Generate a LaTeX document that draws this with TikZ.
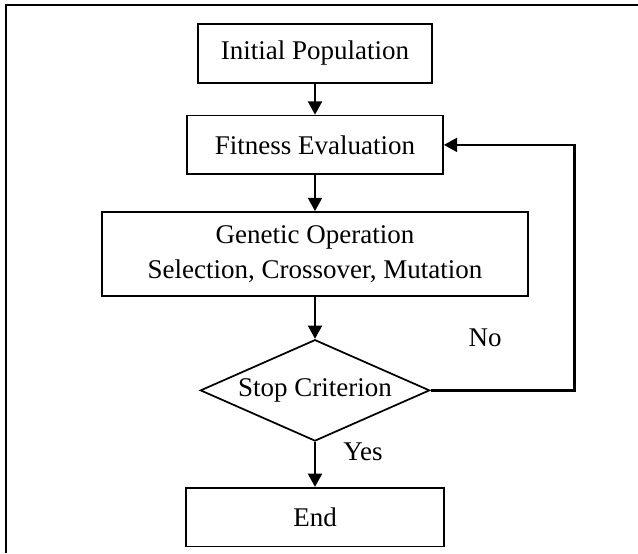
\documentclass[tikz,border=0pt]{standalone}
\usepackage{fontspec}
\setmainfont{Liberation Serif}
\usetikzlibrary{positioning}
\usetikzlibrary{shapes.geometric}
\usetikzlibrary{arrows.meta}
\usetikzlibrary{backgrounds}

\tikzset{
	stagebox/.style = {fill = white, draw, rectangle, line width = 1.3pt, inner sep = 0pt,
		minimum height = 44pt, align = center, font = \fontsize{20.25}{26.25}\selectfont},
	testbox/.style = {fill = white, draw, diamond, line width = 1.3pt, inner sep = 0pt, shape aspect = 2.26,
		minimum width = 172pt, minimum height = 76pt, font = \fontsize{20.25}{26.25}\selectfont},
	flow/.style = {black, line width = 1.7pt, -{Triangle[length=10pt,width=10.5pt]}},
	tag/.style = {font = \fontsize{20.25}{26.25}\selectfont}
}

\begin{document}
\begin{tikzpicture}[x=0.75pt,y=-0.75pt]
		\useasboundingbox (0,0) rectangle (638,553);
		\draw[black, line width = 1.5pt] (6,553) -- (6,5) -- (638,5);

		\node[stagebox, minimum width = 176pt] at (315,53.5) (init) {Initial Population};
		\node[below = 23.25pt of init, stagebox, minimum width = 192pt] (fit)
		{Fitness Evaluation};
		\node[below = 27pt of fit, stagebox, minimum width = 319pt, minimum height = 63pt] (gen)
		{Genetic Operation\\Selection, Crossover, Mutation};
		\node[below = 31.5pt of gen, testbox] (stop)
		{Stop Criterion};
		\node[below = 33.75pt of stop, stagebox, minimum width = 193.5pt] (end)
		{End};

		\coordinate[right = 108pt of stop.east] (back);
		\node[tag] at (485,338) (no) {No};
		\node[tag] at (363,452) (yes) {Yes};

		\begin{scope}[on background layer]
			\draw[flow] (init) to (fit);
			\draw[flow] (fit) to (gen);
			\draw[flow] (gen) to (stop);
			\draw[flow] (stop) to (end);
			\draw[flow] (stop.east) -- (back) |- (fit.east);
		\end{scope}
	\end{tikzpicture}
\end{document}
